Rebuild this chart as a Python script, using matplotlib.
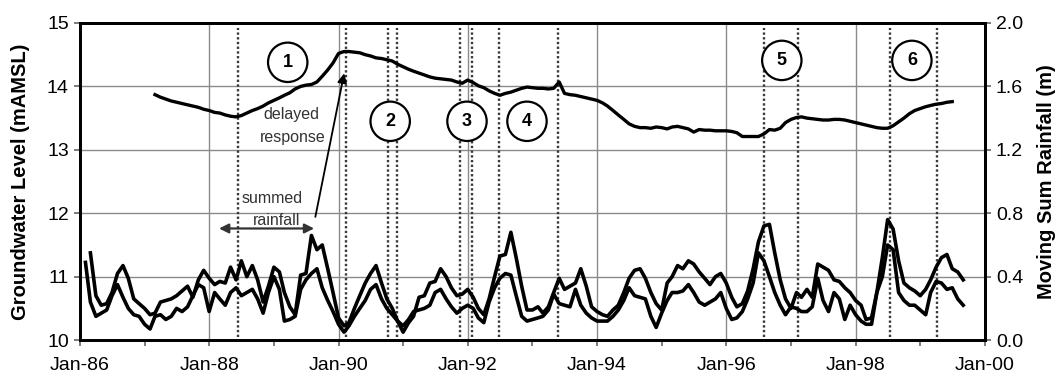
import pandas as pd
import matplotlib
matplotlib.use('Agg')
import matplotlib.pyplot as plt
import matplotlib.dates as mdates

plt.rcParams['font.family'] = ['Liberation Sans', 'DejaVu Sans']

# moving sum rainfall (m), monthly, two summing windows
rain_long_start = '1986-03-01'
rain_long = [
    0.55, 0.28, 0.22, 0.23, 0.30, 0.42, 0.47, 0.39, 0.26, 0.23,
    0.20, 0.16, 0.17, 0.24, 0.25, 0.26, 0.28, 0.31, 0.34, 0.27, 0.38, 0.44,
    0.39, 0.35, 0.37, 0.36, 0.46, 0.38, 0.50, 0.40, 0.47, 0.38, 0.24, 0.34,
    0.46, 0.43, 0.30, 0.21, 0.16, 0.41, 0.42, 0.66, 0.57, 0.60, 0.45, 0.30,
    0.14, 0.09, 0.11, 0.20, 0.28, 0.36, 0.42, 0.47, 0.36, 0.26, 0.20, 0.12,
    0.05, 0.11, 0.15, 0.27, 0.28, 0.36, 0.37, 0.45, 0.40, 0.33, 0.28, 0.29,
    0.32, 0.27, 0.20, 0.16, 0.26, 0.40, 0.53, 0.54, 0.68, 0.52, 0.34, 0.19,
    0.19, 0.21, 0.17, 0.21, 0.30, 0.39, 0.32, 0.34, 0.36, 0.45, 0.34, 0.21,
    0.18, 0.16, 0.15, 0.19, 0.22, 0.30, 0.39, 0.44, 0.45, 0.39, 0.30, 0.23,
    0.19, 0.36, 0.40, 0.47, 0.45, 0.50, 0.48, 0.43, 0.39, 0.35, 0.40, 0.42,
    0.36, 0.27, 0.21, 0.23, 0.31, 0.45, 0.62, 0.72, 0.73, 0.55, 0.38, 0.26,
    0.20, 0.30, 0.27, 0.32, 0.27, 0.48, 0.46, 0.44, 0.38, 0.37, 0.33, 0.30,
    0.25, 0.22, 0.13, 0.14, 0.30, 0.52, 0.76, 0.70, 0.50, 0.36, 0.33, 0.31,
    0.28, 0.32, 0.38, 0.46, 0.52, 0.54, 0.45, 0.43, 0.38,
]
rain_short_start = '1986-02-01'
rain_short = [
    0.49, 0.24, 0.15, 0.17, 0.19, 0.28, 0.35, 0.27, 0.20, 0.16, 0.15,
    0.10, 0.07, 0.15, 0.16, 0.13, 0.15, 0.20, 0.18, 0.21, 0.28, 0.35, 0.33,
    0.18, 0.30, 0.26, 0.22, 0.30, 0.33, 0.28, 0.30, 0.32, 0.26, 0.17, 0.30,
    0.40, 0.32, 0.12, 0.13, 0.15, 0.32, 0.38, 0.42, 0.45, 0.33, 0.25, 0.18,
    0.10, 0.05, 0.09, 0.15, 0.20, 0.25, 0.32, 0.35, 0.26, 0.20, 0.16, 0.12,
    0.09, 0.13, 0.18, 0.19, 0.20, 0.22, 0.30, 0.32, 0.26, 0.21, 0.17, 0.20,
    0.22, 0.20, 0.14, 0.11, 0.24, 0.33, 0.39, 0.42, 0.41, 0.28, 0.15, 0.12,
    0.13, 0.14, 0.15, 0.19, 0.29, 0.23, 0.22, 0.21, 0.32, 0.22, 0.17, 0.14,
    0.12, 0.12, 0.12, 0.15, 0.19, 0.25, 0.33, 0.28, 0.27, 0.26, 0.15, 0.08,
    0.17, 0.25, 0.30, 0.30, 0.31, 0.35, 0.30, 0.24, 0.22, 0.24, 0.26, 0.30,
    0.20, 0.13, 0.14, 0.18, 0.26, 0.36, 0.55, 0.50, 0.40, 0.30, 0.22, 0.16,
    0.21, 0.20, 0.18, 0.18, 0.21, 0.39, 0.25, 0.18, 0.30, 0.26, 0.13, 0.22,
    0.16, 0.12, 0.10, 0.10, 0.30, 0.40, 0.60, 0.57, 0.30, 0.25, 0.22, 0.22,
    0.19, 0.16, 0.30, 0.37, 0.36, 0.32, 0.33, 0.26, 0.22,
]

# groundwater level (mAMSL), monthly
gw_start = '1987-03-01'
gw_level = [
    13.87, 13.83, 13.80, 13.77, 13.75, 13.73, 13.71, 13.69, 13.67, 13.64,
    13.62, 13.59, 13.58, 13.55, 13.53, 13.52, 13.54, 13.58, 13.62, 13.65, 13.69, 13.74,
    13.78, 13.82, 13.86, 13.90, 13.96, 14.00, 14.02, 14.03, 14.07, 14.16, 14.26, 14.37,
    14.52, 14.55, 14.55, 14.54, 14.53, 14.50, 14.48, 14.45, 14.44, 14.42, 14.40, 14.35,
    14.31, 14.27, 14.24, 14.21, 14.18, 14.15, 14.13, 14.12, 14.11, 14.10, 14.07, 14.05,
    14.10, 14.06, 14.01, 13.98, 13.93, 13.89, 13.86, 13.89, 13.91, 13.94, 13.97, 13.99,
    13.98, 13.97, 13.97, 13.96, 13.97, 14.07, 13.89, 13.87, 13.86, 13.84, 13.82, 13.80,
    13.78, 13.74, 13.69, 13.62, 13.55, 13.48, 13.41, 13.37, 13.35, 13.35, 13.34, 13.36,
    13.35, 13.33, 13.36, 13.37, 13.35, 13.33, 13.28, 13.32, 13.31, 13.31, 13.30, 13.30,
    13.30, 13.29, 13.27, 13.21, 13.21, 13.21, 13.21, 13.25, 13.32, 13.31, 13.34, 13.43,
    13.48, 13.51, 13.52, 13.50, 13.49, 13.48, 13.47, 13.47, 13.48, 13.48, 13.47, 13.45,
    13.43, 13.41, 13.39, 13.37, 13.35, 13.34, 13.34, 13.38, 13.44, 13.50, 13.57, 13.62,
    13.65, 13.68, 13.70, 13.72, 13.73, 13.75, 13.76,
]

# recharge event markers
event_dates = ['1988-06-10', '1990-02-10', '1990-10-05', '1990-11-25',
               '1991-11-20', '1992-01-28', '1992-06-25', '1993-05-28',
               '1996-07-30', '1997-02-10', '1998-07-12', '1999-04-05']

# circled event numbers: (label, date, level)
event_labels = [('1', '1989-03-20', 14.38), ('2', '1990-10-20', 13.45),
                ('3', '1991-12-28', 13.45), ('4', '1992-12-01', 13.45),
                ('5', '1996-11-10', 14.41), ('6', '1998-11-15', 14.41)]


def monthly(start, values):
    return pd.date_range(start, periods=len(values), freq='MS')


fig = plt.figure(figsize=(10.62, 3.8), dpi=100)
ax = fig.add_axes([0.0753, 0.105, 0.852, 0.8345])
ax2 = ax.twinx()

for d in event_dates:
    ax.axvline(pd.Timestamp(d), ymin=0.01, ymax=0.985, color='#3a3a3a',
               lw=1.7, ls=(0, (1, 1)), zorder=1)

ax.plot(monthly(gw_start, gw_level), gw_level, color='black', lw=2.4, zorder=3)
ax2.plot(monthly(rain_long_start, rain_long), rain_long, color='black', lw=2.6)
ax2.plot(monthly(rain_short_start, rain_short), rain_short, color='black', lw=2.6)

ax.set_xlim(pd.Timestamp('1986-01-01'), pd.Timestamp('2000-01-01'))
ax.set_ylim(10, 15)
ax2.set_ylim(0, 2.0)
ax.set_yticks([10, 11, 12, 13, 14, 15])
ax2.set_yticks([0.0, 0.4, 0.8, 1.2, 1.6, 2.0])
ax2.yaxis.set_major_formatter(matplotlib.ticker.FormatStrFormatter('%.1f'))

ax.xaxis.set_major_locator(mdates.YearLocator(2))
ax.xaxis.set_minor_locator(mdates.YearLocator(1))
ax.xaxis.set_major_formatter(mdates.DateFormatter('%b-%y'))

ax.grid(True, which='major', color='#8a8a8a', lw=1.0)
ax.set_axisbelow(True)

for a in (ax, ax2):
    for s in a.spines.values():
        s.set_linewidth(2.0)
        s.set_color('black')
    a.tick_params(labelsize=14, length=4, width=1.2, color='#666666', pad=4)
ax.tick_params(axis='x', which='minor', length=4, width=1.2, color='#666666')
ax.tick_params(axis='x', pad=8)

ax.set_ylabel('Groundwater Level (mAMSL)', fontsize=14.5, fontweight='bold', labelpad=12)
ax2.set_ylabel('Moving Sum Rainfall (m)', fontsize=14.5, fontweight='bold', labelpad=10)

for lab, d, y in event_labels:
    ax.text(pd.Timestamp(d), y, lab, ha='center', va='center', fontsize=13,
            fontweight='bold', zorder=6,
            bbox=dict(boxstyle='circle,pad=0.62', fc='white', ec='black', lw=1.6))

ax.text(pd.Timestamp('1989-04-10'), 13.55, 'delayed', ha='center', va='center',
        fontsize=11.5, color='#333333', zorder=6)
ax.text(pd.Timestamp('1989-04-20'), 13.2, 'response', ha='center', va='center',
        fontsize=11.5, color='#333333', zorder=6)
ax.annotate('', xy=(pd.Timestamp('1990-02-05'), 14.25),
            xytext=(pd.Timestamp('1989-08-20'), 11.9),
            arrowprops=dict(arrowstyle='-|>', color='black', lw=1.3,
                            mutation_scale=14), zorder=6)

ax.text(pd.Timestamp('1988-12-20'), 12.24, 'summed', ha='center', va='center',
        fontsize=11.5, color='#333333', zorder=6)
ax.text(pd.Timestamp('1989-01-15'), 11.88, 'rainfall', ha='center', va='center',
        fontsize=11.5, color='#333333', zorder=6)
ax.annotate('', xy=(pd.Timestamp('1988-02-10'), 11.76),
            xytext=(pd.Timestamp('1989-09-01'), 11.76),
            arrowprops=dict(arrowstyle='<|-|>', color='#333333', lw=1.6,
                            mutation_scale=14), zorder=6)

fig.savefig('out.png', dpi=100)
